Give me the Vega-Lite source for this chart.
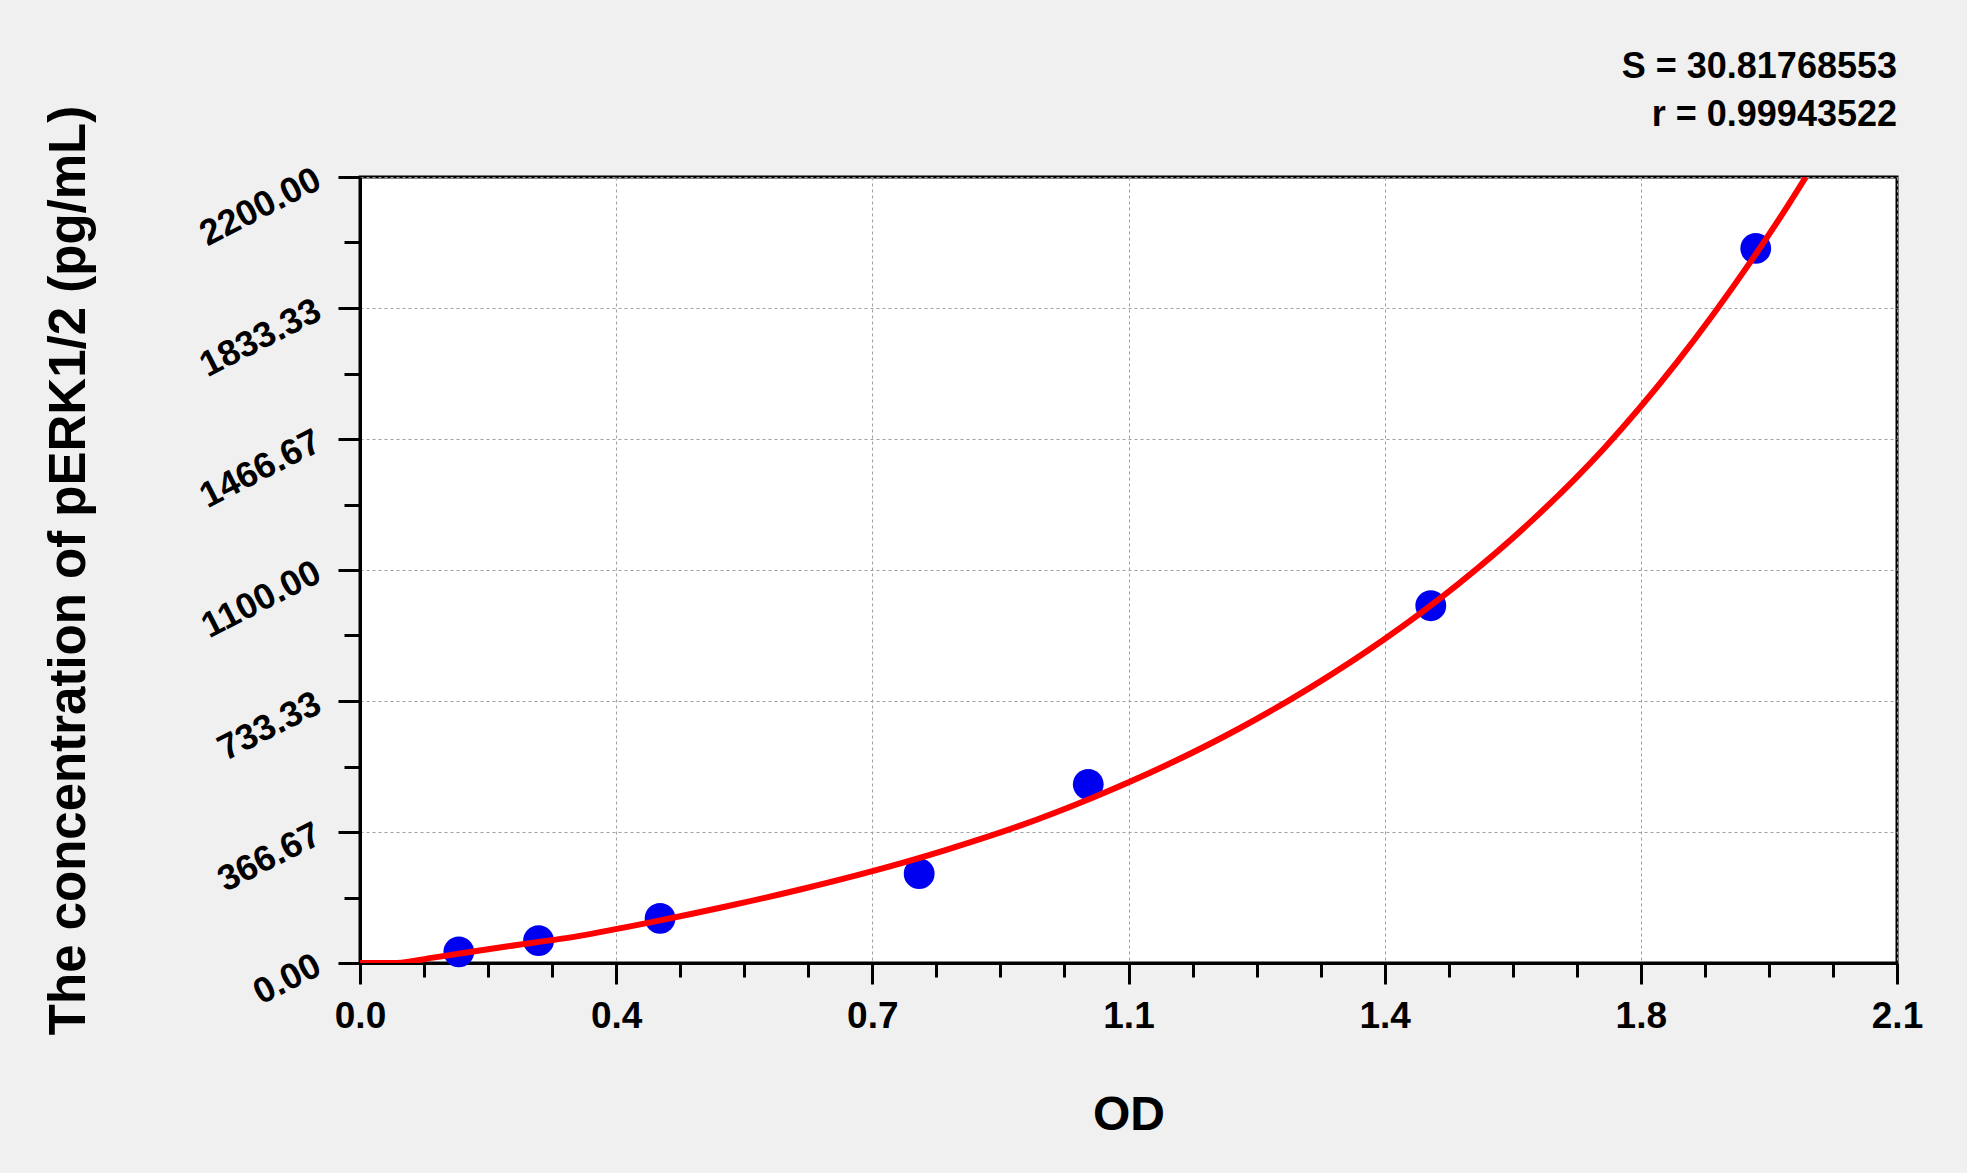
{
  "$schema": "https://vega.github.io/schema/vega-lite/v6.json",
  "width": 1537,
  "height": 786,
  "autosize": {"type": "none"},
  "padding": {"left": 360, "top": 177, "right": 70, "bottom": 210},
  "background": "#f0f0f0",
  "config": {
    "view": {"fill": "white", "stroke": "black", "strokeWidth": 3},
    "font": "Liberation Sans"
  },
  "title": {
    "text": ["S = 30.81768553", "r = 0.99943522"],
    "anchor": "end",
    "frame": "group",
    "fontSize": 36,
    "fontWeight": "bold",
    "lineHeight": 48,
    "offset": -29,
    "color": "black",
    "font": "Liberation Sans"
  },
  "datasets": {
    "points": [
      {"od": 0.135, "conc": 31.25},
      {"od": 0.244, "conc": 62.5},
      {"od": 0.410, "conc": 125},
      {"od": 0.764, "conc": 250},
      {"od": 0.995, "conc": 500},
      {"od": 1.463, "conc": 1000},
      {"od": 1.907, "conc": 2000}
    ],
    "curve": [
      {"od": 0.0, "conc": 0},
      {"od": 0.05, "conc": 0},
      {"od": 0.1, "conc": 15},
      {"od": 0.2, "conc": 46},
      {"od": 0.3, "conc": 76},
      {"od": 0.4, "conc": 115},
      {"od": 0.5, "conc": 158},
      {"od": 0.6, "conc": 205},
      {"od": 0.7, "conc": 257},
      {"od": 0.8, "conc": 316},
      {"od": 0.9, "conc": 383},
      {"od": 1.0, "conc": 462},
      {"od": 1.1, "conc": 552},
      {"od": 1.2, "conc": 655},
      {"od": 1.3, "conc": 773},
      {"od": 1.4, "conc": 907},
      {"od": 1.5, "conc": 1060},
      {"od": 1.6, "conc": 1236},
      {"od": 1.7, "conc": 1441},
      {"od": 1.8, "conc": 1683},
      {"od": 1.9, "conc": 1963},
      {"od": 1.95, "conc": 2117},
      {"od": 1.9755, "conc": 2200}
    ]
  },
  "layer": [
    {
      "data": {"name": "points"},
      "mark": {"type": "circle", "size": 950, "color": "#0000f0", "opacity": 1},
      "encoding": {
        "x": {
          "field": "od",
          "type": "quantitative",
          "scale": {"domain": [0, 2.1], "nice": false, "zero": false},
          "axis": {
            "title": "OD",
            "values": [0, 0.0875, 0.175, 0.2625, 0.35, 0.4375, 0.525, 0.6125, 0.7, 0.7875, 0.875, 0.9625, 1.05, 1.1375, 1.225, 1.3125, 1.4, 1.4875, 1.575, 1.6625, 1.75, 1.8375, 1.925, 2.0125, 2.1],
            "labelExpr": "round(datum.value/0.0875) % 4 == 0 ? format(datum.value + 0.000001, '.1f') : ''",
            "tickSize": {"condition": {"test": "round(datum.value/0.0875) % 4 == 0", "value": 21}, "value": 14},
            "tickWidth": 3,
            "tickColor": "black",
            "domainColor": "black",
            "domainWidth": 3,
            "labelFontSize": 37,
            "labelFontWeight": "bold",
            "labelColor": "black",
            "labelFont": "Liberation Sans",
            "labelPadding": 14,
            "labelFlush": false,
            "labelOverlap": false,
            "grid": true,
            "gridColor": "#a0a0a0",
            "gridDash": [3, 3],
            "gridWidth": 1,
            "gridOpacity": {"condition": {"test": "round(datum.value/0.0875) % 4 == 0", "value": 1}, "value": 0},
            "titleFontSize": 48,
            "titleFontWeight": "bold",
            "titleColor": "black",
            "titleFont": "Liberation Sans",
            "titleX": 768.5,
            "titleY": 166,
            "titleBaseline": "alphabetic",
            "titleAlign": "center"
          }
        },
        "y": {
          "field": "conc",
          "type": "quantitative",
          "scale": {"domain": [0, 2200], "nice": false, "zero": false},
          "axis": {
            "title": "The concentration of pERK1/2 (pg/mL)",
            "values": [0, 91.66667, 183.33333, 275, 366.66667, 458.33333, 550, 641.66667, 733.33333, 825, 916.66667, 1008.33333, 1100, 1191.66667, 1283.33333, 1375, 1466.66667, 1558.33333, 1650, 1741.66667, 1833.33333, 1925, 2016.66667, 2108.33333, 2200],
            "labelExpr": "round(datum.value/91.66667) % 4 == 0 ? format(datum.value, '.2f') : ''",
            "tickSize": {"condition": {"test": "round(datum.value/91.66667) % 4 == 0", "value": 22}, "value": 16},
            "tickWidth": 3,
            "tickColor": "black",
            "domainColor": "black",
            "domainWidth": 3,
            "labelFontSize": 36,
            "labelFontWeight": "bold",
            "labelColor": "black",
            "labelFont": "Liberation Sans",
            "labelAngle": -27,
            "labelAlign": "right",
            "labelBaseline": "middle",
            "labelPadding": 20,
            "labelFlush": false,
            "labelOverlap": false,
            "grid": true,
            "gridColor": "#a0a0a0",
            "gridDash": [3, 3],
            "gridWidth": 1,
            "gridOpacity": {"condition": {"test": "round(datum.value/91.66667) % 4 == 0", "value": 1}, "value": 0},
            "titleFontSize": 51,
            "titleFontWeight": "bold",
            "titleColor": "black",
            "titleFont": "Liberation Sans",
            "titleAngle": -90,
            "titleX": -276,
            "titleY": 393,
            "titleBaseline": "alphabetic",
            "titleAlign": "center"
          }
        }
      }
    },
    {
      "data": {"name": "curve"},
      "mark": {"type": "line", "color": "#ff0000", "strokeWidth": 6, "interpolate": "monotone", "clip": true},
      "encoding": {
        "x": {"field": "od", "type": "quantitative"},
        "y": {"field": "conc", "type": "quantitative"}
      }
    }
  ]
}
